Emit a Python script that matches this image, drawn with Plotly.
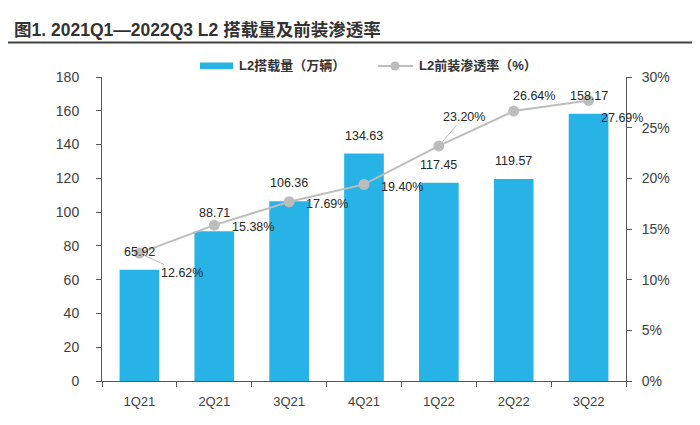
import plotly.graph_objects as go

# ---- data ----
quarters = ["1Q21", "2Q21", "3Q21", "4Q21", "1Q22", "2Q22", "3Q22"]
l2_volume = [65.92, 88.71, 106.36, 134.63, 117.45, 119.57, 158.17]          # 万辆
l2_penetration = [0.1262, 0.1538, 0.1769, 0.1940, 0.2320, 0.2664, 0.2769]  # ratio

left_ticks = list(range(0, 181, 20))
right_ticks = [0, 0.05, 0.10, 0.15, 0.20, 0.25, 0.30]

# ---- style ----
BAR_COLOR = "#28B3E6"
LINE_COLOR = "#BDBDBD"
AXIS_COLOR = "#595959"
TEXT_COLOR = "#262626"
OFF = 8  # page body margin
W, H = 700 - OFF, 425 - OFF
L, T = 102 - OFF, 77 - OFF
PW, PH = 524, 304
R, B = W - L - PW, H - T - PH
FONT = "Liberation Sans, Arial, Noto Sans CJK SC"
CJK = "Liberation Sans, Noto Sans CJK SC"

def px(xp):
    """page pixel x -> paper coordinate"""
    return (xp - OFF - L) / PW

def py(yp):
    """page pixel y -> paper coordinate"""
    return (T + PH - (yp - OFF)) / PH

# label offsets (pixels) for the penetration labels: (dx, dy down), leader line?
pct_offsets = [(43, 20, True), (39, 2, False), (38, 2, False), (38, 3, False),
               (25, -29, True), (20, -15, False), (33, 18, False)]

fig = go.Figure()
fig.add_trace(go.Bar(
    x=quarters, y=l2_volume, name="L2搭载量（万辆）",
    marker=dict(color=BAR_COLOR, line=dict(width=0)),
    width=0.53, yaxis="y", showlegend=False,
))
fig.add_trace(go.Scatter(
    x=quarters, y=l2_penetration, name="L2前装渗透率（%）",
    mode="lines+markers", yaxis="y2",
    line=dict(color=LINE_COLOR, width=2),
    marker=dict(color=LINE_COLOR, size=11),
    showlegend=False,
))

annotations = []
for q, v in zip(quarters, l2_volume):
    annotations.append(dict(
        x=q, y=v, xref="x", yref="y", text=f"{v:.2f}", showarrow=False,
        yshift=18, font=dict(family=FONT, size=12.5, color=TEXT_COLOR),
    ))
for q, p, (dx, dy, lead) in zip(quarters, l2_penetration, pct_offsets):
    annotations.append(dict(
        x=q, y=p, xref="x", yref="y2", text=f"{p*100:.2f}%",
        showarrow=True, ax=dx, ay=dy, arrowhead=0, arrowwidth=1,
        arrowcolor=LINE_COLOR if lead else "rgba(0,0,0,0)", standoff=5,
        font=dict(family=FONT, size=12.5, color=TEXT_COLOR),
    ))

# legend (drawn manually)
annotations.append(dict(x=px(237), y=py(65), xref="paper", yref="paper",
                        text="<b>L2搭载量（万辆）</b>", showarrow=False,
                        xanchor="left", yanchor="middle",
                        font=dict(family=CJK, size=13, color="#333333")))
annotations.append(dict(x=px(417), y=py(65), xref="paper", yref="paper",
                        text="<b>L2前装渗透率（%）</b>", showarrow=False,
                        xanchor="left", yanchor="middle",
                        font=dict(family=CJK, size=13, color="#333333")))
# title
annotations.append(dict(x=px(12), y=py(30), xref="paper", yref="paper",
                        text="<b>图1. 2021Q1—2022Q3 L2 搭载量及前装渗透率</b>",
                        showarrow=False, xanchor="left", yanchor="middle",
                        font=dict(family=CJK, size=17.5, color="#333333")))

shapes = [
    # title underline
    dict(type="line", xref="paper", yref="paper", x0=px(6), x1=px(700),
         y0=py(42.5), y1=py(42.5), line=dict(color="#404040", width=2)),
    # legend swatches
    dict(type="rect", xref="paper", yref="paper", x0=px(200), x1=px(233),
         y0=py(69), y1=py(62.5), fillcolor=BAR_COLOR, line=dict(width=0)),
    dict(type="line", xref="paper", yref="paper", x0=px(378), x1=px(413),
         y0=py(66), y1=py(66), line=dict(color=LINE_COLOR, width=2)),
    dict(type="circle", xref="paper", yref="paper", x0=px(390.5), x1=px(399.5),
         y0=py(70.5), y1=py(61.5), fillcolor=LINE_COLOR, line=dict(width=0)),
]

axis_common = dict(showline=True, linecolor=AXIS_COLOR, linewidth=1,
                   ticks="outside", ticklen=5, tickcolor=AXIS_COLOR,
                   showgrid=False, zeroline=False)

fig.update_layout(
    width=W, height=H,
    margin=dict(l=L, r=R, t=T, b=B, autoexpand=False),
    paper_bgcolor="white", plot_bgcolor="white",
    xaxis=dict(type="category", range=[-0.5, 6.5], tickson="boundaries",
               tickfont=dict(family=FONT, size=13, color="#404040"),
               ticklabelstandoff=8, **axis_common),
    yaxis=dict(range=[0, 180], tickvals=left_ticks,
               tickfont=dict(family=FONT, size=14, color="#404040"),
               ticklabelstandoff=14, **axis_common),
    yaxis2=dict(range=[0, 0.30], tickvals=right_ticks, tickformat=".0%",
                overlaying="y", side="right",
                tickfont=dict(family=FONT, size=14, color="#404040"),
                ticklabelstandoff=7, **axis_common),
    annotations=annotations,
    shapes=shapes,
    showlegend=False,
)

fig.write_html("out.html")
